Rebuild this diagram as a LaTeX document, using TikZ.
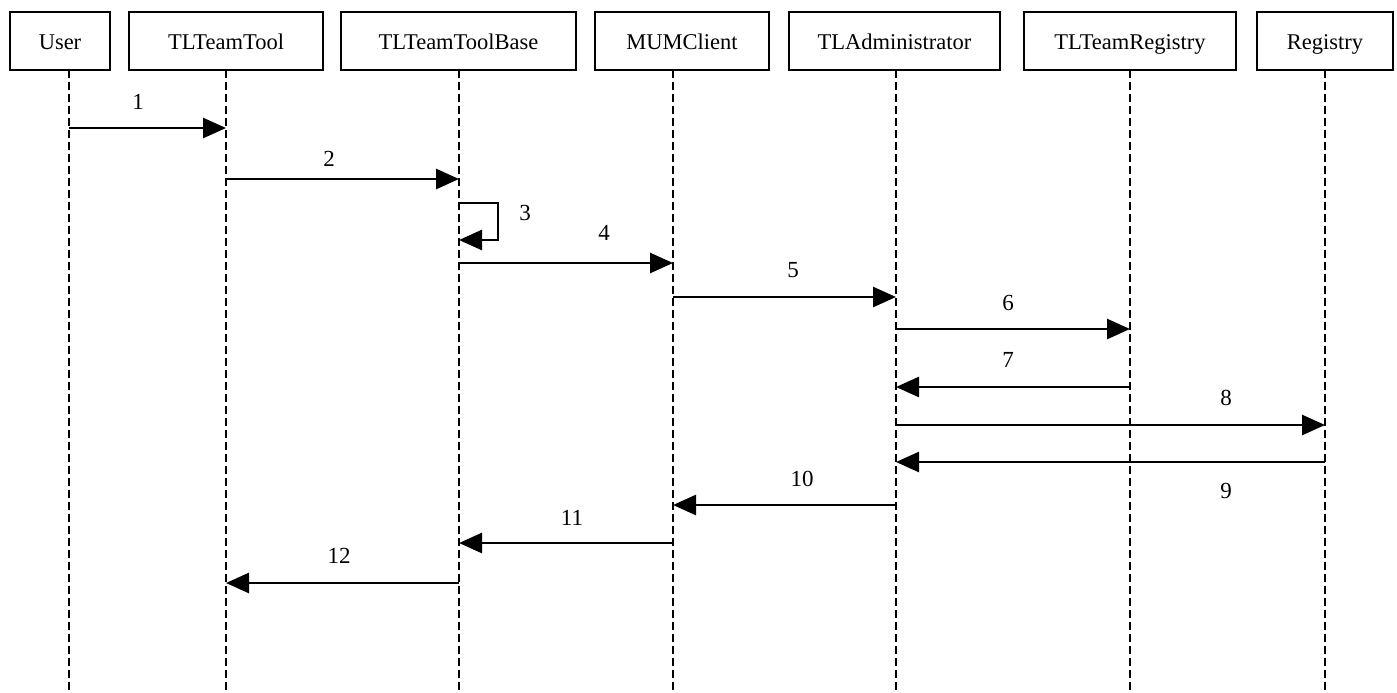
\documentclass[tikz,border=0pt]{standalone}
\usepackage{fontspec}
\setmainfont{Liberation Serif}
\usetikzlibrary{arrows.meta}
\tikzset{
  objbox/.style={draw=black, line width=1.3pt, fill=white, minimum height=29pt, inner sep=0pt,
                 text height=10pt, text depth=1.5pt,
                 font=\fontsize{11.25}{13}\selectfont},
  lifeline/.style={draw=black, line width=1.3pt, dash pattern=on 4pt off 2pt},
  msg/.style={draw=black, line width=1.35pt, -{Triangle[length=11.5pt,width=10pt]}},
  lbl/.style={font=\fontsize{11.5}{13}\selectfont, inner sep=0pt}
}
\begin{document}
\begin{tikzpicture}[x=0.5pt,y=-0.5pt]
\useasboundingbox (0,0) rectangle (1397,692);
% objects
\node[objbox, minimum width=50pt]    (u)    at (60,41)    {User};
\node[objbox, minimum width=97pt]    (tt)   at (226,41)   {TLTeamTool};
\node[objbox, minimum width=117.5pt] (ttb)  at (458.5,41) {TLTeamToolBase};
\node[objbox, minimum width=87pt]    (mum)  at (682,41)   {MUMClient};
\node[objbox, minimum width=105.5pt] (adm)  at (894.5,41) {TLAdministrator};
\node[objbox, minimum width=106pt]   (treg) at (1130,41)  {TLTeamRegistry};
\node[objbox, minimum width=68pt]    (reg)  at (1325,41)  {Registry};
% lifelines
\coordinate (uT) at (69,70);     \coordinate (uB) at (69,692);
\coordinate (ttT) at (226,70);   \coordinate (ttB) at (226,692);
\coordinate (ttbT) at (459,70);  \coordinate (ttbB) at (459,692);
\coordinate (mumT) at (673,70);  \coordinate (mumB) at (673,692);
\coordinate (admT) at (896,70);  \coordinate (admB) at (896,692);
\coordinate (tregT) at (1130,70);\coordinate (tregB) at (1130,692);
\coordinate (regT) at (1325,70); \coordinate (regB) at (1325,692);
\foreach \l in {u,tt,ttb,mum,adm,treg,reg}{\draw[lifeline] (\l T) -- (\l B);}
% messages
\draw[msg] (uT |- 0,128) -- (ttT |- 0,128);
\draw[msg] (ttT |- 0,179) -- (ttbT |- 0,179);
\coordinate (loopA) at (498,203);
\coordinate (loopB) at (498,240);
\draw[msg] (ttbT |- loopA) -- (loopA) -- (loopB) -- (ttbT |- loopB);
\draw[msg] (ttbT |- 0,263) -- (mumT |- 0,263);
\draw[msg] (mumT |- 0,297) -- (admT |- 0,297);
\draw[msg] (admT |- 0,329) -- (tregT |- 0,329);
\draw[msg] (tregT |- 0,387) -- (admT |- 0,387);
\draw[msg] (admT |- 0,425) -- (regT |- 0,425);
\draw[msg] (regT |- 0,462) -- (admT |- 0,462);
\draw[msg] (admT |- 0,505) -- (mumT |- 0,505);
\draw[msg] (mumT |- 0,543) -- (ttbT |- 0,543);
\draw[msg] (ttbT |- 0,583) -- (ttT |- 0,583);
% labels
\node[lbl] (l1)  at (138,102)  {1};
\node[lbl] (l2)  at (329,159)  {2};
\node[lbl] (l3)  at (525,213)  {3};
\node[lbl] (l4)  at (604,233)  {4};
\node[lbl] (l5)  at (793,270)  {5};
\node[lbl] (l6)  at (1008,303) {6};
\node[lbl] (l7)  at (1008,360) {7};
\node[lbl] (l8)  at (1226,398) {8};
\node[lbl] (l9)  at (1226,491) {9};
\node[lbl] (l10) at (802,479)  {10};
\node[lbl] (l11) at (572,518)  {11};
\node[lbl] (l12) at (339,556)  {12};
\end{tikzpicture}
\end{document}
